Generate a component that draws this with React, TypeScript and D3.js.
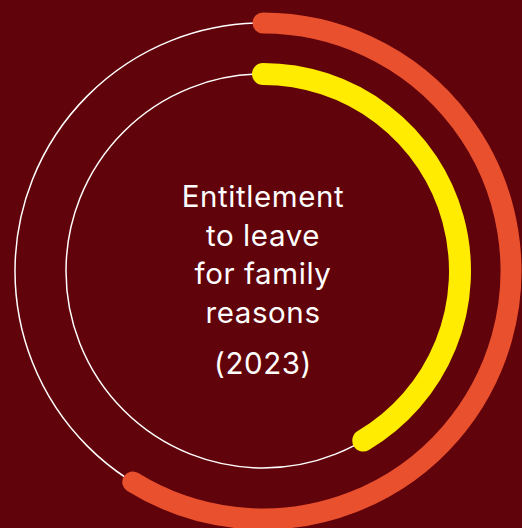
import React from "react";
import * as d3 from "d3";

const series = ["Outer", "Inner"];
const values = [58.8, 41.5]; // percent of full circle
const colors = ["#E8502E", "#FFEC00"];
const titleLines = ["Entitlement", "to leave", "for family", "reasons"];
const yearLabel = "(2023)";

const W = 522;
const H = 528;

export default function App() {
  const cx = 263;
  const cy = 271;
  const radii = [248, 197];
  const angle = d3.scaleLinear().domain([0, 100]).range([0, 2 * Math.PI]);
  const arcPath = (r: number, v: number) => {
    const p = d3.path();
    p.arc(0, 0, r, -Math.PI / 2, -Math.PI / 2 + angle(v), false);
    return p.toString();
  };
  return (
    <div style={{ position: "fixed", left: 0, top: 0, width: W, height: H }}>
      <svg width={W} height={H} style={{ display: "block" }}>
        <rect width={W} height={H} fill="#61030A" />
        <g transform={`translate(${cx},${cy})`}>
          {series.map((s, i) => (
            <g key={s}>
              <circle r={radii[i]} fill="none" stroke="#ffffff" strokeWidth={1.5} />
              <path
                d={arcPath(radii[i], values[i])}
                fill="none"
                stroke={colors[i]}
                strokeWidth={i === 0 ? 21 : 22}
                strokeLinecap="round"
              />
            </g>
          ))}
          <g
            fill="#ffffff"
            fontFamily="Inter, 'Open Sans', sans-serif"
            fontSize={29.5}
            letterSpacing={0.6}
            textAnchor="middle"
          >
            {titleLines.map((t, i) => (
              <text key={t} x={0} y={207 - cy + i * 38.5}>
                {t}
              </text>
            ))}
            <text x={0} y={374 - cy}>{yearLabel}</text>
          </g>
        </g>
      </svg>
    </div>
  );
}
